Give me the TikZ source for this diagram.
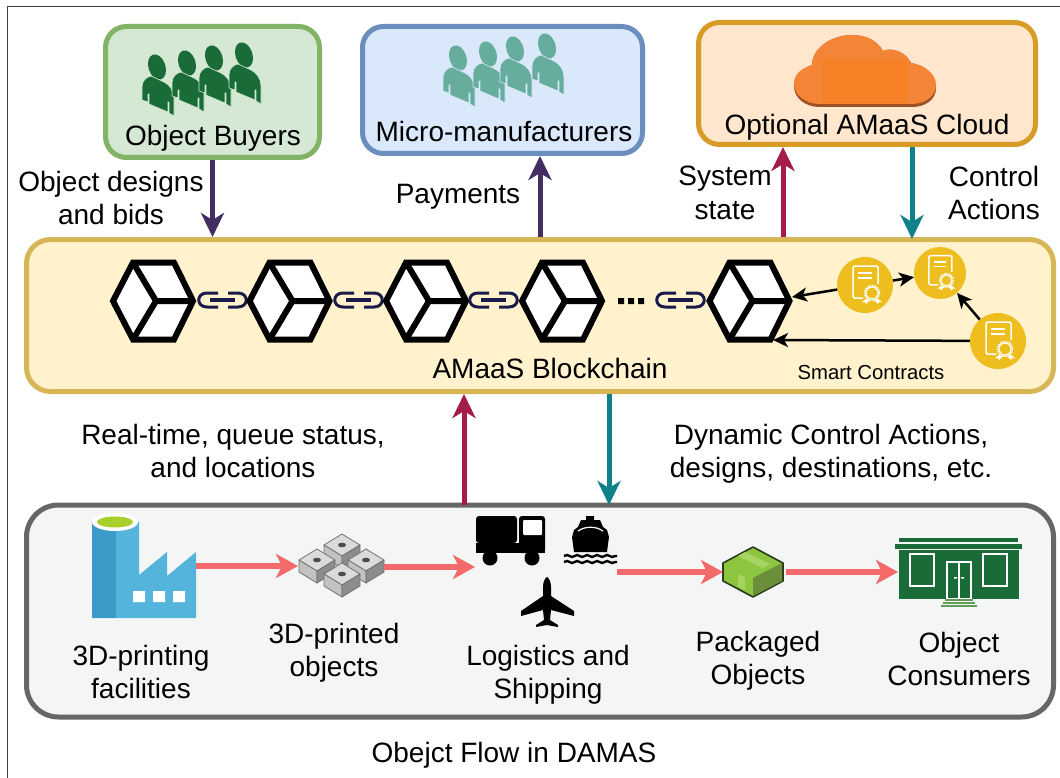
\documentclass[tikz,border=0pt]{standalone}
\usepackage{fontspec}
\setmainfont{Liberation Sans}
\usetikzlibrary{arrows.meta,decorations.pathmorphing}
\definecolor{buyF}{HTML}{D5E8D4}\definecolor{buyD}{HTML}{82B366}
\definecolor{micF}{HTML}{DAE8FC}\definecolor{micD}{HTML}{6C8EBF}
\definecolor{cloF}{HTML}{FFE6CC}\definecolor{cloD}{HTML}{D79B26}
\definecolor{chaF}{HTML}{FFF2CC}\definecolor{chaD}{HTML}{D6B656}
\definecolor{floF}{HTML}{F4F6F6}\definecolor{floD}{HTML}{666666}
\definecolor{purp}{HTML}{432D62}\definecolor{crim}{HTML}{A51C4A}
\definecolor{teal2}{HTML}{0E818A}\definecolor{pink2}{HTML}{F46A6A}
\definecolor{navy}{HTML}{1B1B4B}\definecolor{gold}{HTML}{EDBE1E}
\definecolor{dgreen}{HTML}{196B38}\definecolor{tealp}{HTML}{66AD9D}
\definecolor{cloudS}{HTML}{9D5025}\definecolor{cloudA}{HTML}{F58536}\definecolor{cloudB}{HTML}{F58025}
\definecolor{facA}{HTML}{55B4DC}\definecolor{facB}{HTML}{3A9BC8}\definecolor{facG}{HTML}{A8CF2D}
\definecolor{pkgA}{HTML}{8CC63F}\definecolor{pkgB}{HTML}{6B8E3A}\definecolor{pkgC}{HTML}{A8D464}\definecolor{pkgD}{HTML}{2B3A1E}
\tikzset{
  x=1pt,y=-1pt,
  box/.style={draw,line width=5pt,rounded corners=21pt,inner sep=0pt},
  lbl/.style={font=\fontsize{28}{33.5}\selectfont,align=center,text=black,inner sep=0pt},
  bigarrow/.style={line width=5pt,-{Stealth[length=24pt,width=23pt,inset=7pt]}},
  pinkarrow/.style={pink2,line width=5.5pt,-{Stealth[length=22pt,width=24pt,inset=6pt]}},
  thinarrow/.style={black,line width=2.5pt,-{Stealth[length=15pt,width=14pt,inset=4pt]},shorten >=0pt},
  sc/.style={circle,fill=gold,inner sep=0pt},
  blockhex/.pic={
    \draw[black,fill=white,line width=6pt,line join=miter]
      (-40,0)--(-20,-38.5)--(21,-38.5)--(40,0)--(21,38.5)--(-20,38.5)--cycle;
    \draw[black,line width=6pt] (-20,-38.5)--(3,0)--(40,0) (3,0)--(-20,38.5);
  },
  chainlink/.pic={
    \draw[navy,line width=3pt] (21,-7)--(10,-7) .. controls (-1,-7) and (-1,7) .. (10,7)--(21,7);
    \draw[navy,line width=3pt] (31,-7)--(41,-7) .. controls (52,-7) and (52,7) .. (41,7)--(31,7);
    \draw[navy,line width=3.6pt] (13,0)--(38,0);
  },
  person/.pic={
    \fill[personcol,rotate=18] (0,0) ellipse (8.5 and 13);
    \path[fill=personcol,draw=personbg,line width=.6pt]
      (-15,33)--(-15,20) .. controls (-15,14) and (-11,10) .. (-6,9)--(7,15)
      .. controls (13,18) and (17,24) .. (17,31)--(17,49)--(12,46)--(12,35)--(11,35)--(11,45)
      --(-8,37)--(-8,27)--(-9,27)--(-9,35)--cycle;
  },
  contract/.pic={
    \draw[white,line width=1.5pt,rounded corners=1.5pt] (13,-1)--(13,-19)--(-12,-19)--(-12,13)--(-2,13);
    \draw[white,line width=1.5pt] (-7,-12)--(7,-12) (-7,-7)--(7,-7);
    \draw[white,line width=1.5pt,densely dotted] (7,8) circle (7.5);
    \draw[white,line width=1.2pt] (7,8) circle (6);
    \fill[white] (1,14)--(5,15)--(1,19)--(0,17)--(-3,17)--cycle (13,14)--(9,15)--(13,19)--(14,17)--(17,17)--cycle;
  },
  gcube/.pic={
    \draw[black!55,fill=black!14,line width=.8pt,line join=round] (0,-11)--(18,0)--(0,11)--(-18,0)--cycle;
    \draw[black!55,fill=black!24,line width=.8pt,line join=round] (-18,0)--(0,11)--(0,23)--(-18,12)--cycle;
    \draw[black!55,fill=black!45,line width=.8pt,line join=round] (18,0)--(0,11)--(0,23)--(18,12)--cycle;
    \fill[black!70] (0,0) ellipse (4 and 2.3);
  },
}
\begin{document}
\begin{tikzpicture}
\useasboundingbox (0,0) rectangle (1060,778);
\fill[white] (0,0) rectangle (1060,778);
\draw[black!75,line width=1pt] (7.5,778)--(7.5,7)--(1060,7);

% boxes
\node[box,draw=buyD,fill=buyF,minimum width=214pt,minimum height=131pt] (buyers) at (212.5,92) {};
\node[box,draw=micD,fill=micF,minimum width=280pt,minimum height=127pt] (micro) at (502.5,90) {};
\node[box,draw=cloD,fill=cloF,minimum width=337pt,minimum height=122pt] (cloud) at (867,83.5) {};
\node[box,draw=chaD,fill=chaF,minimum width=1027pt,minimum height=152pt,rounded corners=24pt] (chain) at (540,315.5) {};
\node[box,draw=floD,fill=floF,minimum width=1027pt,minimum height=212pt,rounded corners=32pt] (flow) at (540,611) {};

% people
\colorlet{personcol}{dgreen}\colorlet{personbg}{buyF}
\foreach \px/\py in {157/67,187/63,214/58,244/55} \pic at (\px,\py) {person};
\colorlet{personcol}{tealp}\colorlet{personbg}{micF}
\foreach \px/\py in {458/58,488/54,515/49,547/46} \pic at (\px,\py) {person};

% cloud
\fill[cloudS] (794,86) .. controls (794,76) and (802,68) .. (812,65)
  .. controls (812,48) and (832,35) .. (852,35) .. controls (868,35) and (878,42) .. (883,51)
  .. controls (892,47) and (906,52) .. (911,63) .. controls (925,65) and (936,76) .. (936,88)
  .. controls (936,100) and (925,107) .. (912,107) -- (820,107) .. controls (805,107) and (794,98) .. (794,86) -- cycle;
\fill[cloudA] (794,83) .. controls (794,74) and (802,68) .. (812,65)
  .. controls (812,48) and (832,35) .. (852,35) .. controls (868,35) and (878,42) .. (883,51)
  .. controls (892,47) and (906,52) .. (911,63) .. controls (925,65) and (936,74) .. (936,85)
  .. controls (936,96) and (925,104) .. (912,104) -- (820,104) .. controls (805,104) and (794,95) .. (794,83) -- cycle;
\fill[cloudB] (822,59) rectangle (907,103);

% box labels
\node[lbl] (tbuy) at (213,138) {Object Buyers};
\node[lbl] (tmic) at (504,131) {Micro-manufacturers};
\node[lbl] (tclo) at (867,127) {Optional AMaaS Cloud};
\node[lbl] (tdes) at (111,198) {Object designs\\and bids};
\node[lbl] (tpay) at (458,197) {Payments};
\node[lbl] (tsys) at (725,193) {System\\state};
\node[lbl] (tcon) at (994,193) {Control\\Actions};
\node[lbl] (tcha) at (550,368) {AMaaS Blockchain};
\node[lbl,font=\fontsize{20.3}{24}\selectfont] (tsmart) at (871,373) {Smart Contracts};
\node[lbl] (treal) at (233,451) {Real-time, queue status,\\and locations};
\node[lbl] (tdyn) at (831,454) {Dynamic Control Actions,\\designs, destinations, etc.};
\node[lbl] (tfac) at (141,672) {3D-printing\\facilities};
\node[lbl] (tprt) at (334,653) {3D-printed\\objects};
\node[lbl] (tlog) at (548,675) {Logistics and\\Shipping};
\node[lbl] (tpkg) at (758,661) {Packaged\\Objects};
\node[lbl] (tcons) at (959,659) {Object\\Consumers};
\node[lbl] (tflow) at (514,755) {Obejct Flow in DAMAS};

% vertical connectors
\coordinate (payS) at (540,237); \coordinate (payE) at (540,156);
\coordinate (sysS) at (783,237); \coordinate (sysE) at (783,147);
\coordinate (ctlS) at (912,147); \coordinate (ctlE) at (912,239);
\coordinate (upS) at (464,505); \coordinate (upE) at (464,394);
\coordinate (dnS) at (609,394); \coordinate (dnE) at (609,505);
\draw[bigarrow,purp] (buyers.south) -- (buyers.south |- chain.north);
\draw[bigarrow,purp] (payS) -- (payE);
\draw[bigarrow,crim] (sysS) -- (sysE);
\draw[bigarrow,teal2] (ctlS) -- (ctlE);
\draw[bigarrow,crim] (upS) -- (upE);
\draw[bigarrow,teal2] (dnS) -- (dnE);

% blockchain
\foreach \lx in {197,333,468,655} \pic at (\lx,300) {chainlink};
\foreach \hx in {153,289.5,426,562,749.5} \pic at (\hx,301) {blockhex};
\fill[black] (618,298) rectangle (624,304) (628,298) rectangle (634,304) (638,298) rectangle (644,304);

% smart contracts
\node[sc,minimum size=56pt] (c1) at (865,285) {};
\node[sc,minimum size=52pt] (c2) at (940,273) {};
\node[sc,minimum size=56pt] (c3) at (998,341) {};
\pic at (865,285) {contract};
\pic[scale=.92] at (940,273) {contract};
\pic at (998,341) {contract};
\coordinate (h5a) at (792,297);
\coordinate (h5b) at (773,340);
\draw[thinarrow] (c1) -- (h5a);
\draw[thinarrow] (c1) -- (c2);
\draw[thinarrow] (c3) -- (c2);
\draw[thinarrow] (c3) -- (h5b);

% factory
\fill[facA] (92,522)--(139,522)--(139,575)--(167,552)--(167,576)--(196,552)--(196,618)--(92,618)--cycle;
\fill[facB] (92,522) rectangle (116,618);
\fill[white] (115,522) ellipse (23 and 9);
\fill[facG] (115,522) ellipse (18 and 5.5);
\fill[white] (133,591) rectangle (145,602) (153,591) rectangle (165,602) (173,591) rectangle (185,602);
\coordinate (facR) at (196,566);

% cubes
\pic at (342,545) {gcube};
\pic at (317,560) {gcube};
\pic at (366,560) {gcube};
\pic at (342,574) {gcube};
\coordinate (cubL) at (298,566);
\coordinate (cubR) at (384,567);

% truck
\fill[black,rounded corners=3pt] (476,516) rectangle (517,543);
\fill[black] (476,543) rectangle (545,553);
\fill[black,rounded corners=3pt] (519,516) rectangle (545,553);
\fill[white,rounded corners=1pt] (523,520) rectangle (542,535);
\fill[black] (490,558) circle (7.5) (532,558) circle (7.5);
\coordinate (truL) at (475,567);
% ship
\fill[black] (586,516)--(594,516)--(594,520)--(600,520)--(603,527)--(607,530)--(609,537)--(607,552)--(574,552)--(572,537)--(574,530)--(578,527)--(581,520)--(586,520)--cycle;
\draw[white,line width=1.2pt] (578,531) .. controls (585,526) and (596,526) .. (603,531);
\draw[black,line width=2.4pt,decorate,decoration={snake,amplitude=1pt,segment length=10pt}] (564,556)--(617,556);
\draw[black,line width=2.4pt,decorate,decoration={snake,amplitude=1pt,segment length=10pt}] (564,562)--(617,562);
\coordinate (shpR) at (617,572);
% plane
\fill[black,line join=round] (547,577) .. controls (549,578) and (551,582) .. (551,587)--(551,596)--(574,611)--(574,616)--(551,610)--(550,620)--(558,625)--(558,627)--(547,625)--(536,627)--(536,625)--(544,620)--(543,610)--(521,616)--(521,611)--(543,596)--(543,587) .. controls (543,582) and (545,578) .. (547,577)--cycle;

% package
\draw[pkgD,fill=pkgA,line width=1.6pt,line join=round]
  (753,547)--(783,563)--(783,581)--(753,597)--(723,581)--(723,563)--cycle;
\fill[pkgB] (753,578)--(782,563)--(782,581)--(753,596)--cycle;
\fill[pkgC] (738,556)--(745,552)--(770,564)--(763,568)--cycle;
\fill[pkgC] (738,574)--(745,578)--(745,590)--(738,586)--cycle;
\coordinate (pkgL) at (723,572);
\coordinate (pkgR) at (786,572);

% store
\fill[dgreen] (899,550) rectangle (1019,599);
\fill[dgreen] (899,538) rectangle (1018,542);
\fill[dgreen] (895,544)--(1022,544)--(1022,549)--(895,549)--cycle;
\draw[white,line width=1.3pt] (910,554) rectangle (934,586) (983,554) rectangle (1007,586) (947,562) rectangle (971,599) (959,562)--(959,599);
\fill[white] (954,577) rectangle (957,578.5) (961,577) rectangle (964,578.5);
\draw[buyD!70!dgreen,line width=1.1pt] (945,600)--(973,600) (943,603)--(975,603) (941,606)--(977,606);
\coordinate (stoL) at (898,572);

% pink flow connectors
\draw[pinkarrow] (facR) -- (cubL);
\draw[pinkarrow] (cubR) -- (truL);
\draw[pinkarrow] (shpR) -- (pkgL);
\draw[pinkarrow] (pkgR) -- (stoL);
\end{tikzpicture}
\end{document}
